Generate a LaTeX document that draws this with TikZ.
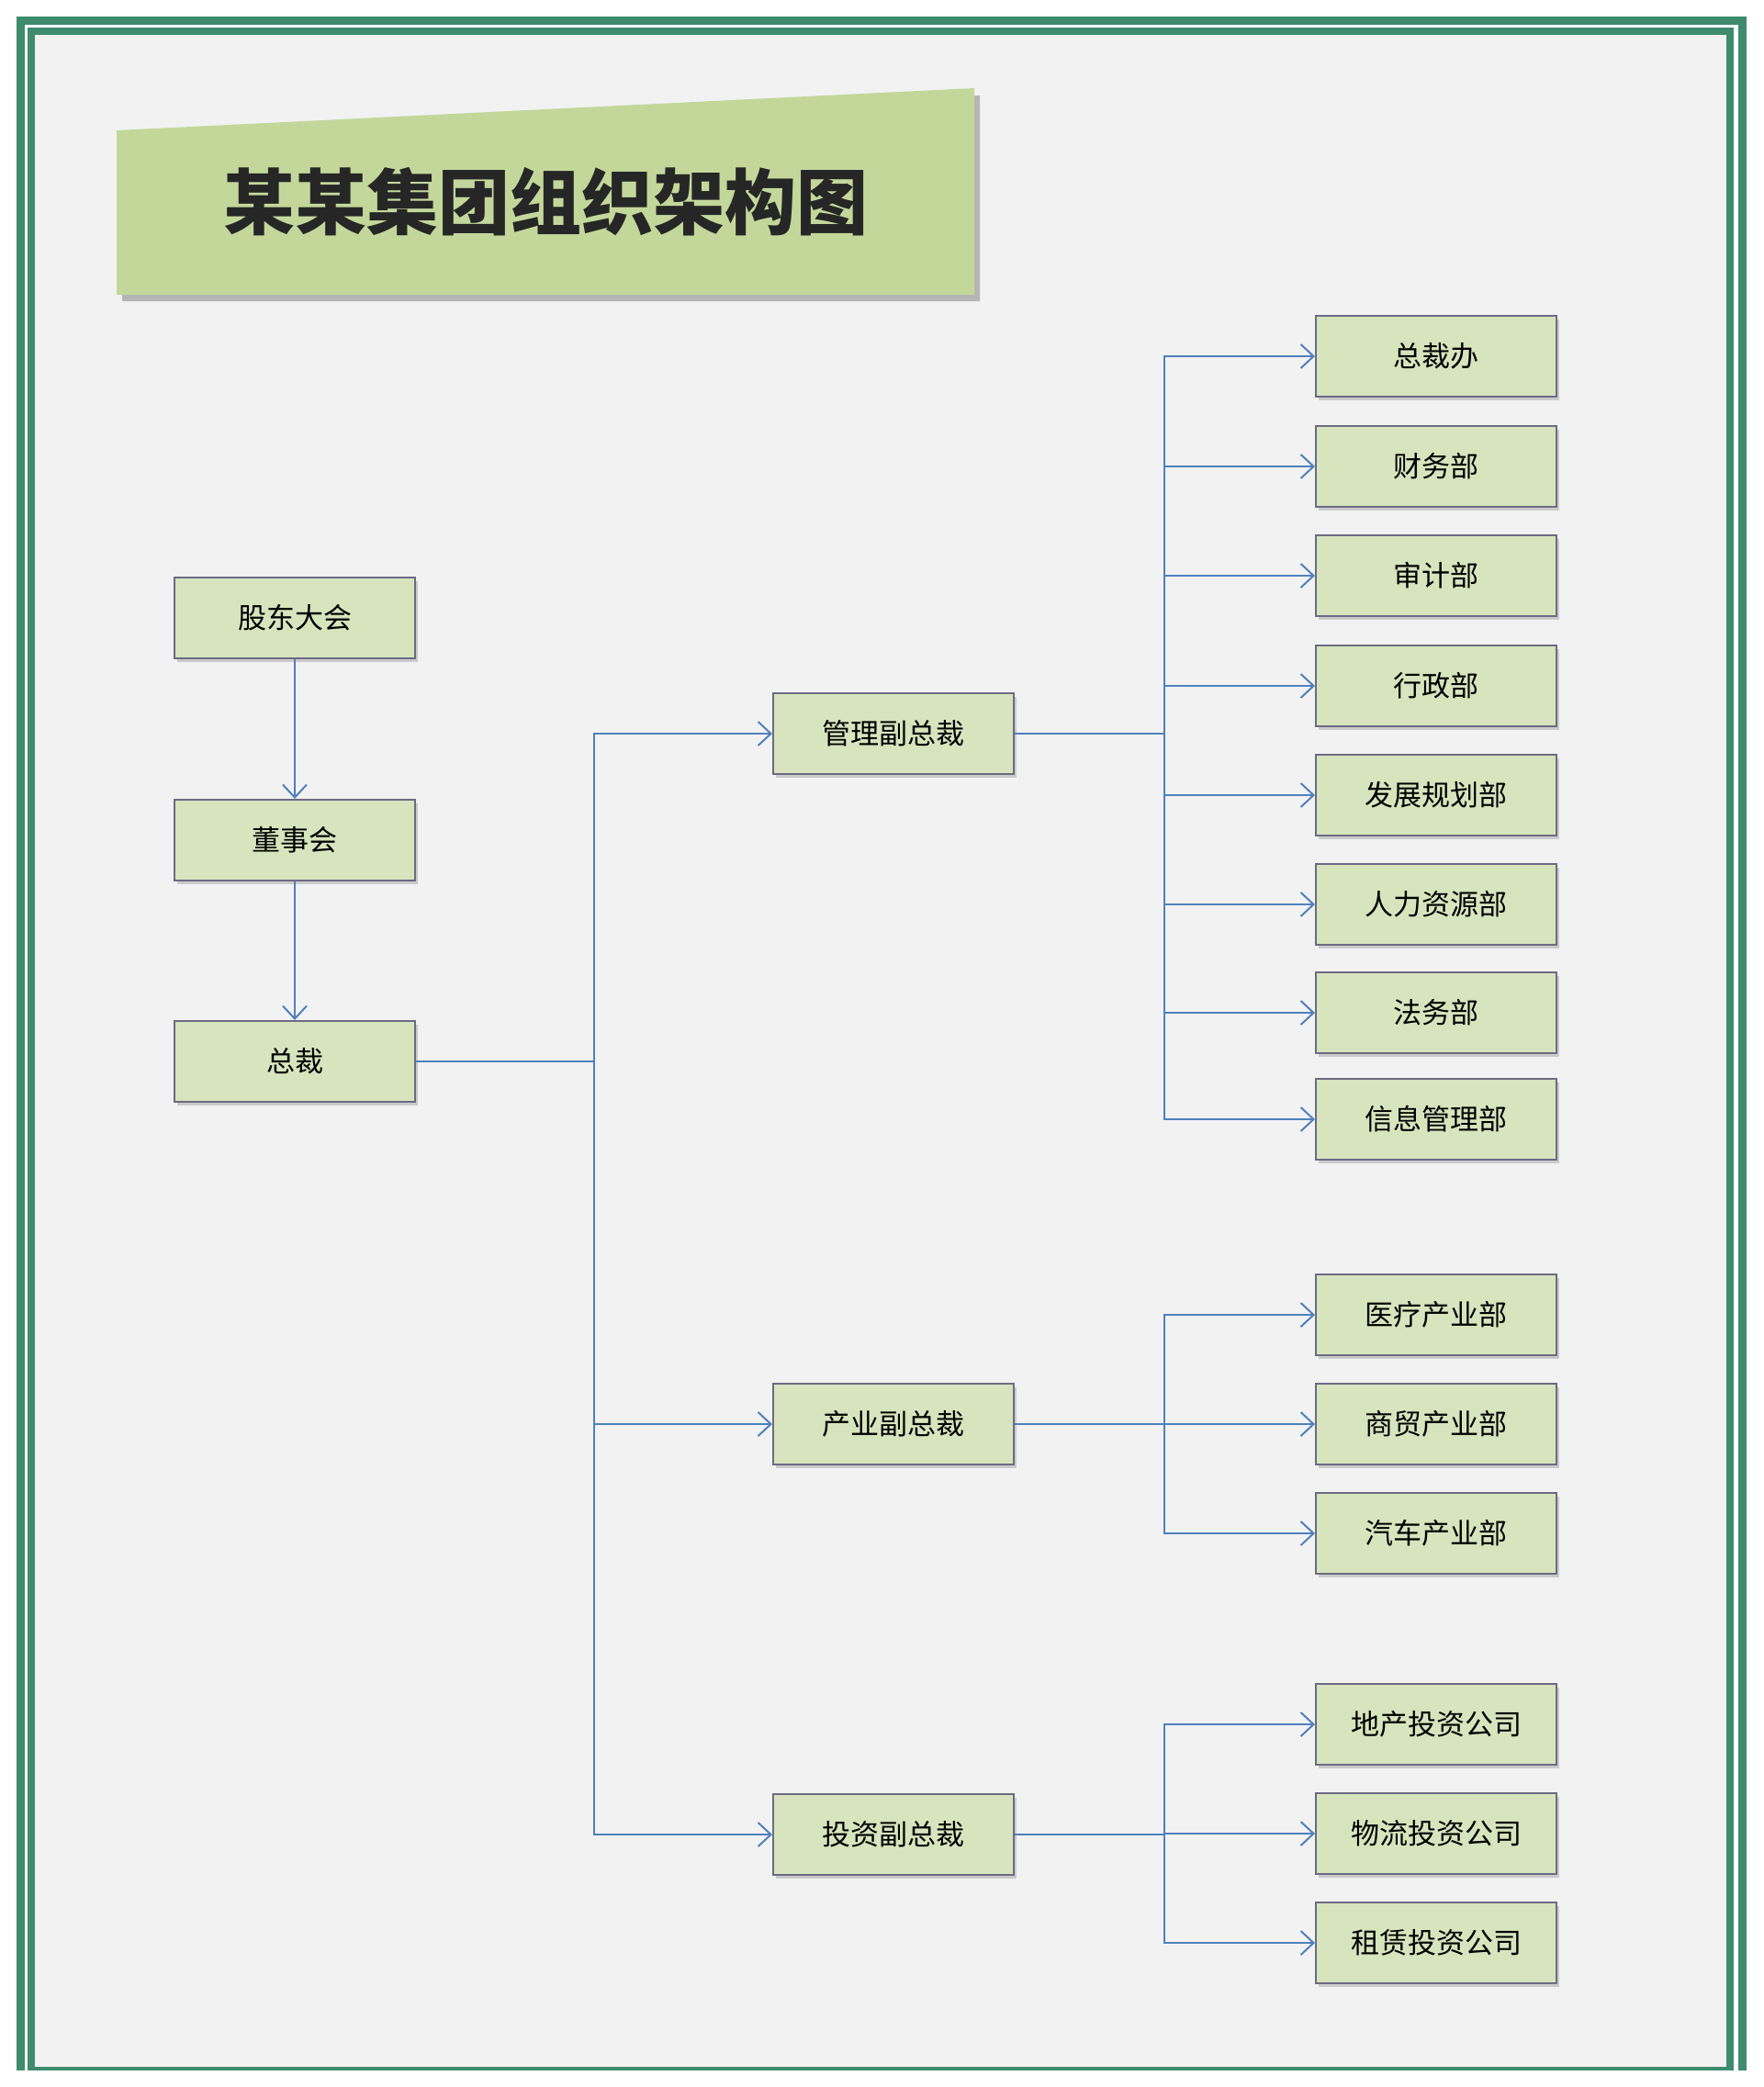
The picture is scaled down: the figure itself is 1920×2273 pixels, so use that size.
\documentclass[tikz,border=0pt]{standalone}
\usepackage{fontspec}
\setmainfont{Noto Sans CJK SC}
\usetikzlibrary{arrows.meta,shadows}
\definecolor{frame}{HTML}{3F8B6E}
\definecolor{bg}{HTML}{F2F2F2}
\definecolor{tfill}{HTML}{C4D79B}
\definecolor{bfill}{HTML}{D7E4BD}
\definecolor{bdraw}{HTML}{6E6A84}
\definecolor{ln}{HTML}{4F81BD}
\tikzset{
 box/.style={draw=bdraw,line width=2pt,fill=bfill,minimum width=262pt,minimum height=88pt,inner sep=0pt,font=\fontsize{31}{31}\selectfont,drop shadow={shadow xshift=3pt,shadow yshift=-4pt,opacity=0.35}},
 conn/.style={draw=ln,line width=2.5pt},
 arr/.style={conn,-{Straight Barb[length=14pt,width=26pt,line width=2pt]}}
}
\begin{document}
\begin{tikzpicture}[x=1pt,y=-1pt]
\useasboundingbox (0,0) rectangle (1920,2273);
\fill[white] (0,0) rectangle (1920,2273);
\fill[bg] (38,38) rectangle (1880,2253);
\fill[frame] (18,18) rectangle (27,2255);
\fill[frame] (18,18) rectangle (1902,27);
\fill[frame] (1893,18) rectangle (1902,2255);
\fill[frame] (30,30) rectangle (38,2253);
\fill[frame] (30,30) rectangle (1888,38);
\fill[frame] (1880,30) rectangle (1888,2255);
\fill[frame] (30,2251) rectangle (1888,2255);
\fill[black,opacity=0.25] (133,150) -- (1067,104) -- (1067,328) -- (133,328) -- cycle;
\fill[tfill] (127,142) -- (1061,96) -- (1061,321) -- (127,321) -- cycle;
\node[font=\fontsize{78}{78}\selectfont\bfseries,text=black!85] (title) at (594,220) {某某集团组织架构图};

\node[box] (gd) at (321,673) {股东大会};
\node[box] (dsh) at (321,915) {董事会};
\node[box] (zc) at (321,1156) {总裁};
\node[box] (gl) at (973,799) {管理副总裁};
\node[box] (cy) at (973,1551) {产业副总裁};
\node[box] (tz) at (973,1998) {投资副总裁};
\foreach \n/\t/\y in {a1/总裁办/388,a2/财务部/508,a3/审计部/627,a4/行政部/747,a5/发展规划部/866,a6/人力资源部/985,a7/法务部/1103,a8/信息管理部/1219,b1/医疗产业部/1432,b2/商贸产业部/1551,b3/汽车产业部/1670,c1/地产投资公司/1878,c2/物流投资公司/1997,c3/租赁投资公司/2116}
  \node[box] (\n) at (1564,\y) {\t};

\draw[arr] (gd) -- (dsh);
\draw[arr] (dsh) -- (zc);
\coordinate (bus) at (647,1156);
\draw[conn] (zc.east) -- (bus);
\foreach \m in {gl,cy,tz} \draw[arr] (bus) |- (\m.west);
\coordinate (b1x) at (1268,799);
\coordinate (b2x) at (1268,1551);
\coordinate (b3x) at (1268,1998);
\draw[conn] (gl.east) -- (b1x);
\draw[conn] (cy.east) -- (b2x);
\draw[conn] (tz.east) -- (b3x);
\foreach \n in {a1,a2,a3,a4,a5,a6,a7,a8} \draw[arr] (b1x) |- (\n.west);
\foreach \n in {b1,b2,b3} \draw[arr] (b2x) |- (\n.west);
\foreach \n in {c1,c2,c3} \draw[arr] (b3x) |- (\n.west);
\end{tikzpicture}
\end{document}
